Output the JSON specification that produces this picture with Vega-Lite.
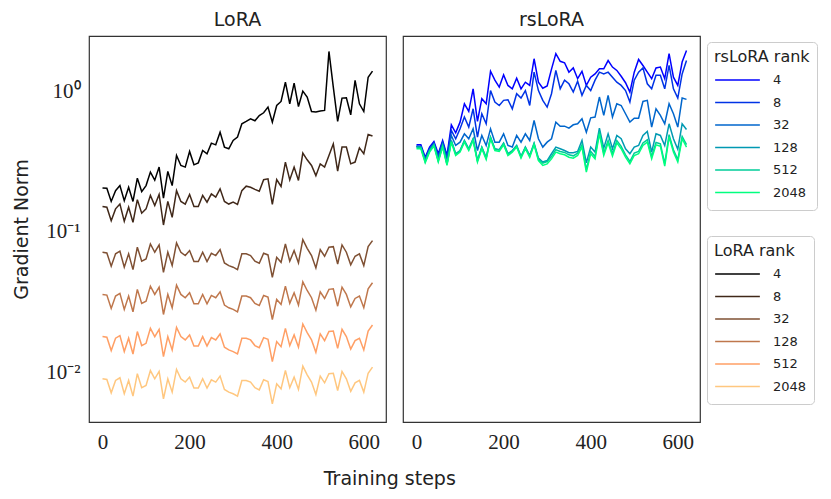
{
  "$schema": "https://vega.github.io/schema/vega-lite/v6.json",
  "padding": {"left": 12, "top": 10, "right": 0, "bottom": 0},
  "background": "white",
  "datasets": {
    "lora_4": [{"step":0,"norm":0.206},{"step":10,"norm":0.205},{"step":20,"norm":0.165},{"step":30,"norm":0.197},{"step":40,"norm":0.214},{"step":50,"norm":0.167},{"step":60,"norm":0.208},{"step":70,"norm":0.165},{"step":80,"norm":0.242},{"step":90,"norm":0.194},{"step":100,"norm":0.214},{"step":110,"norm":0.267},{"step":120,"norm":0.234},{"step":130,"norm":0.29},{"step":140,"norm":0.174},{"step":150,"norm":0.27},{"step":160,"norm":0.214},{"step":170,"norm":0.351},{"step":180,"norm":0.298},{"step":190,"norm":0.29},{"step":200,"norm":0.375},{"step":210,"norm":0.301},{"step":220,"norm":0.311},{"step":230,"norm":0.381},{"step":240,"norm":0.361},{"step":250,"norm":0.43},{"step":260,"norm":0.418},{"step":270,"norm":0.515},{"step":280,"norm":0.403},{"step":290,"norm":0.392},{"step":300,"norm":0.449},{"step":310,"norm":0.475},{"step":320,"norm":0.591},{"step":330,"norm":0.614},{"step":340,"norm":0.641},{"step":350,"norm":0.621},{"step":360,"norm":0.677},{"step":370,"norm":0.708},{"step":380,"norm":0.777},{"step":390,"norm":0.607},{"step":400,"norm":0.798},{"step":410,"norm":0.853},{"step":420,"norm":1.17},{"step":430,"norm":0.821},{"step":440,"norm":1.153},{"step":450,"norm":0.785},{"step":460,"norm":1.01},{"step":470,"norm":0.916},{"step":480,"norm":0.723},{"step":490,"norm":0.716},{"step":500,"norm":0.728},{"step":510,"norm":0.736},{"step":520,"norm":1.94},{"step":530,"norm":1.08},{"step":540,"norm":0.614},{"step":550,"norm":0.901},{"step":560,"norm":0.905},{"step":570,"norm":0.685},{"step":580,"norm":1.205},{"step":590,"norm":0.821},{"step":600,"norm":0.723},{"step":610,"norm":1.27},{"step":620,"norm":1.405}],
    "lora_8": [{"step":0,"norm":0.152},{"step":10,"norm":0.15},{"step":20,"norm":0.12},{"step":30,"norm":0.146},{"step":40,"norm":0.158},{"step":50,"norm":0.119},{"step":60,"norm":0.15},{"step":70,"norm":0.117},{"step":80,"norm":0.17},{"step":90,"norm":0.136},{"step":100,"norm":0.146},{"step":110,"norm":0.182},{"step":120,"norm":0.154},{"step":130,"norm":0.185},{"step":140,"norm":0.112},{"step":150,"norm":0.165},{"step":160,"norm":0.127},{"step":170,"norm":0.197},{"step":180,"norm":0.165},{"step":190,"norm":0.158},{"step":200,"norm":0.185},{"step":210,"norm":0.152},{"step":220,"norm":0.152},{"step":230,"norm":0.182},{"step":240,"norm":0.163},{"step":250,"norm":0.187},{"step":260,"norm":0.177},{"step":270,"norm":0.203},{"step":280,"norm":0.165},{"step":290,"norm":0.158},{"step":300,"norm":0.163},{"step":310,"norm":0.157},{"step":320,"norm":0.197},{"step":330,"norm":0.212},{"step":340,"norm":0.208},{"step":350,"norm":0.201},{"step":360,"norm":0.195},{"step":370,"norm":0.236},{"step":380,"norm":0.239},{"step":390,"norm":0.157},{"step":400,"norm":0.236},{"step":410,"norm":0.211},{"step":420,"norm":0.315},{"step":430,"norm":0.235},{"step":440,"norm":0.29},{"step":450,"norm":0.233},{"step":460,"norm":0.365},{"step":470,"norm":0.327},{"step":480,"norm":0.298},{"step":490,"norm":0.252},{"step":500,"norm":0.306},{"step":510,"norm":0.29},{"step":520,"norm":0.351},{"step":530,"norm":0.425},{"step":540,"norm":0.271},{"step":550,"norm":0.403},{"step":560,"norm":0.403},{"step":570,"norm":0.306},{"step":580,"norm":0.315},{"step":590,"norm":0.398},{"step":600,"norm":0.361},{"step":610,"norm":0.496},{"step":620,"norm":0.483}],
    "lora_32": [{"step":0,"norm":0.0716},{"step":10,"norm":0.0708},{"step":20,"norm":0.0569},{"step":30,"norm":0.0697},{"step":40,"norm":0.0728},{"step":50,"norm":0.056},{"step":60,"norm":0.0697},{"step":70,"norm":0.0538},{"step":80,"norm":0.0778},{"step":90,"norm":0.0618},{"step":100,"norm":0.0641},{"step":110,"norm":0.082},{"step":120,"norm":0.0716},{"step":130,"norm":0.0807},{"step":140,"norm":0.0515},{"step":150,"norm":0.0716},{"step":160,"norm":0.0575},{"step":170,"norm":0.0834},{"step":180,"norm":0.0716},{"step":190,"norm":0.0678},{"step":200,"norm":0.0736},{"step":210,"norm":0.0614},{"step":220,"norm":0.0614},{"step":230,"norm":0.0716},{"step":240,"norm":0.0614},{"step":250,"norm":0.0704},{"step":260,"norm":0.0678},{"step":270,"norm":0.0748},{"step":280,"norm":0.0601},{"step":290,"norm":0.0575},{"step":300,"norm":0.056},{"step":310,"norm":0.0538},{"step":320,"norm":0.0697},{"step":330,"norm":0.0697},{"step":340,"norm":0.0678},{"step":350,"norm":0.0618},{"step":360,"norm":0.0597},{"step":370,"norm":0.0704},{"step":380,"norm":0.0685},{"step":390,"norm":0.0474},{"step":400,"norm":0.0659},{"step":410,"norm":0.0607},{"step":420,"norm":0.082},{"step":430,"norm":0.0618},{"step":440,"norm":0.0736},{"step":450,"norm":0.0601},{"step":460,"norm":0.0881},{"step":470,"norm":0.0764},{"step":480,"norm":0.0678},{"step":490,"norm":0.0553},{"step":500,"norm":0.0748},{"step":510,"norm":0.067},{"step":520,"norm":0.0778},{"step":530,"norm":0.0785},{"step":540,"norm":0.059},{"step":550,"norm":0.0807},{"step":560,"norm":0.0716},{"step":570,"norm":0.0583},{"step":580,"norm":0.067},{"step":590,"norm":0.0697},{"step":600,"norm":0.0575},{"step":610,"norm":0.0785},{"step":620,"norm":0.0867}],
    "lora_128": [{"step":0,"norm":0.0358},{"step":10,"norm":0.0354},{"step":20,"norm":0.02845},{"step":30,"norm":0.03485},{"step":40,"norm":0.0364},{"step":50,"norm":0.028},{"step":60,"norm":0.03485},{"step":70,"norm":0.0269},{"step":80,"norm":0.0389},{"step":90,"norm":0.0309},{"step":100,"norm":0.03205},{"step":110,"norm":0.041},{"step":120,"norm":0.0358},{"step":130,"norm":0.04035},{"step":140,"norm":0.02575},{"step":150,"norm":0.0358},{"step":160,"norm":0.02875},{"step":170,"norm":0.0417},{"step":180,"norm":0.0358},{"step":190,"norm":0.0339},{"step":200,"norm":0.0368},{"step":210,"norm":0.0307},{"step":220,"norm":0.0307},{"step":230,"norm":0.0358},{"step":240,"norm":0.0307},{"step":250,"norm":0.0352},{"step":260,"norm":0.0339},{"step":270,"norm":0.0374},{"step":280,"norm":0.03005},{"step":290,"norm":0.02875},{"step":300,"norm":0.028},{"step":310,"norm":0.0269},{"step":320,"norm":0.03485},{"step":330,"norm":0.03485},{"step":340,"norm":0.0339},{"step":350,"norm":0.0309},{"step":360,"norm":0.02985},{"step":370,"norm":0.0352},{"step":380,"norm":0.03425},{"step":390,"norm":0.0237},{"step":400,"norm":0.03295},{"step":410,"norm":0.03035},{"step":420,"norm":0.041},{"step":430,"norm":0.0309},{"step":440,"norm":0.0368},{"step":450,"norm":0.03005},{"step":460,"norm":0.04405},{"step":470,"norm":0.0382},{"step":480,"norm":0.0339},{"step":490,"norm":0.02765},{"step":500,"norm":0.0374},{"step":510,"norm":0.0335},{"step":520,"norm":0.0389},{"step":530,"norm":0.03925},{"step":540,"norm":0.0295},{"step":550,"norm":0.04035},{"step":560,"norm":0.0358},{"step":570,"norm":0.02915},{"step":580,"norm":0.0335},{"step":590,"norm":0.03485},{"step":600,"norm":0.02875},{"step":610,"norm":0.03925},{"step":620,"norm":0.04335}],
    "lora_512": [{"step":0,"norm":0.0179},{"step":10,"norm":0.0177},{"step":20,"norm":0.01423},{"step":30,"norm":0.01743},{"step":40,"norm":0.0182},{"step":50,"norm":0.014},{"step":60,"norm":0.01743},{"step":70,"norm":0.01345},{"step":80,"norm":0.01945},{"step":90,"norm":0.01545},{"step":100,"norm":0.01603},{"step":110,"norm":0.0205},{"step":120,"norm":0.0179},{"step":130,"norm":0.02018},{"step":140,"norm":0.01288},{"step":150,"norm":0.0179},{"step":160,"norm":0.01438},{"step":170,"norm":0.02085},{"step":180,"norm":0.0179},{"step":190,"norm":0.01695},{"step":200,"norm":0.0184},{"step":210,"norm":0.01535},{"step":220,"norm":0.01535},{"step":230,"norm":0.0179},{"step":240,"norm":0.01535},{"step":250,"norm":0.0176},{"step":260,"norm":0.01695},{"step":270,"norm":0.0187},{"step":280,"norm":0.01503},{"step":290,"norm":0.01438},{"step":300,"norm":0.014},{"step":310,"norm":0.01345},{"step":320,"norm":0.01743},{"step":330,"norm":0.01743},{"step":340,"norm":0.01695},{"step":350,"norm":0.01545},{"step":360,"norm":0.01493},{"step":370,"norm":0.0176},{"step":380,"norm":0.01713},{"step":390,"norm":0.01185},{"step":400,"norm":0.01648},{"step":410,"norm":0.01518},{"step":420,"norm":0.0205},{"step":430,"norm":0.01545},{"step":440,"norm":0.0184},{"step":450,"norm":0.01503},{"step":460,"norm":0.02203},{"step":470,"norm":0.0191},{"step":480,"norm":0.01695},{"step":490,"norm":0.01383},{"step":500,"norm":0.0187},{"step":510,"norm":0.01675},{"step":520,"norm":0.01945},{"step":530,"norm":0.01963},{"step":540,"norm":0.01475},{"step":550,"norm":0.02018},{"step":560,"norm":0.0179},{"step":570,"norm":0.01458},{"step":580,"norm":0.01675},{"step":590,"norm":0.01743},{"step":600,"norm":0.01438},{"step":610,"norm":0.01963},{"step":620,"norm":0.02168}],
    "lora_2048": [{"step":0,"norm":0.00895},{"step":10,"norm":0.00885},{"step":20,"norm":0.00711},{"step":30,"norm":0.00871},{"step":40,"norm":0.0091},{"step":50,"norm":0.007},{"step":60,"norm":0.00871},{"step":70,"norm":0.00673},{"step":80,"norm":0.00973},{"step":90,"norm":0.00773},{"step":100,"norm":0.00801},{"step":110,"norm":0.01025},{"step":120,"norm":0.00895},{"step":130,"norm":0.01009},{"step":140,"norm":0.00644},{"step":150,"norm":0.00895},{"step":160,"norm":0.00719},{"step":170,"norm":0.01043},{"step":180,"norm":0.00895},{"step":190,"norm":0.00848},{"step":200,"norm":0.0092},{"step":210,"norm":0.00768},{"step":220,"norm":0.00768},{"step":230,"norm":0.00895},{"step":240,"norm":0.00768},{"step":250,"norm":0.0088},{"step":260,"norm":0.00848},{"step":270,"norm":0.00935},{"step":280,"norm":0.00751},{"step":290,"norm":0.00719},{"step":300,"norm":0.007},{"step":310,"norm":0.00673},{"step":320,"norm":0.00871},{"step":330,"norm":0.00871},{"step":340,"norm":0.00848},{"step":350,"norm":0.00773},{"step":360,"norm":0.00746},{"step":370,"norm":0.0088},{"step":380,"norm":0.00856},{"step":390,"norm":0.00593},{"step":400,"norm":0.00824},{"step":410,"norm":0.00759},{"step":420,"norm":0.01025},{"step":430,"norm":0.00773},{"step":440,"norm":0.0092},{"step":450,"norm":0.00751},{"step":460,"norm":0.01101},{"step":470,"norm":0.00955},{"step":480,"norm":0.00848},{"step":490,"norm":0.00691},{"step":500,"norm":0.00935},{"step":510,"norm":0.00838},{"step":520,"norm":0.00973},{"step":530,"norm":0.00981},{"step":540,"norm":0.00738},{"step":550,"norm":0.01009},{"step":560,"norm":0.00895},{"step":570,"norm":0.00729},{"step":580,"norm":0.00838},{"step":590,"norm":0.00871},{"step":600,"norm":0.00719},{"step":610,"norm":0.00981},{"step":620,"norm":0.01084}],
    "rslora_4": [{"step":0,"norm":0.418},{"step":10,"norm":0.418},{"step":20,"norm":0.341},{"step":30,"norm":0.403},{"step":40,"norm":0.442},{"step":50,"norm":0.361},{"step":60,"norm":0.449},{"step":70,"norm":0.351},{"step":80,"norm":0.581},{"step":90,"norm":0.51},{"step":100,"norm":0.607},{"step":110,"norm":0.821},{"step":120,"norm":0.724},{"step":130,"norm":1.05},{"step":140,"norm":0.614},{"step":150,"norm":0.892},{"step":160,"norm":0.821},{"step":170,"norm":1.4},{"step":180,"norm":1.21},{"step":190,"norm":1.08},{"step":200,"norm":1.32},{"step":210,"norm":1.11},{"step":220,"norm":1.05},{"step":230,"norm":1.25},{"step":240,"norm":1.05},{"step":250,"norm":1.17},{"step":260,"norm":1.11},{"step":270,"norm":1.72},{"step":280,"norm":1.17},{"step":290,"norm":1.06},{"step":300,"norm":1.1},{"step":310,"norm":1.45},{"step":320,"norm":1.87},{"step":330,"norm":1.65},{"step":340,"norm":1.61},{"step":350,"norm":1.38},{"step":360,"norm":1.48},{"step":370,"norm":1.24},{"step":380,"norm":1.4},{"step":390,"norm":1.11},{"step":400,"norm":1.27},{"step":410,"norm":1.34},{"step":420,"norm":1.46},{"step":430,"norm":1.46},{"step":440,"norm":1.67},{"step":450,"norm":1.5},{"step":460,"norm":1.42},{"step":470,"norm":1.29},{"step":480,"norm":1.16},{"step":490,"norm":0.995},{"step":500,"norm":1.38},{"step":510,"norm":1.7},{"step":520,"norm":1.54},{"step":530,"norm":1.38},{"step":540,"norm":1.24},{"step":550,"norm":1.48},{"step":560,"norm":1.5},{"step":570,"norm":1.24},{"step":580,"norm":1.87},{"step":590,"norm":1.27},{"step":600,"norm":1.11},{"step":610,"norm":1.63},{"step":620,"norm":1.97}],
    "rslora_8": [{"step":0,"norm":0.409},{"step":10,"norm":0.409},{"step":20,"norm":0.336},{"step":30,"norm":0.392},{"step":40,"norm":0.432},{"step":50,"norm":0.351},{"step":60,"norm":0.437},{"step":70,"norm":0.341},{"step":80,"norm":0.53},{"step":90,"norm":0.462},{"step":100,"norm":0.544},{"step":110,"norm":0.66},{"step":120,"norm":0.56},{"step":130,"norm":0.756},{"step":140,"norm":0.475},{"step":150,"norm":0.697},{"step":160,"norm":0.591},{"step":170,"norm":1.02},{"step":180,"norm":0.844},{"step":190,"norm":0.798},{"step":200,"norm":0.868},{"step":210,"norm":0.877},{"step":220,"norm":0.756},{"step":230,"norm":0.968},{"step":240,"norm":0.902},{"step":250,"norm":1.02},{"step":260,"norm":0.798},{"step":270,"norm":1.38},{"step":280,"norm":1.02},{"step":290,"norm":0.868},{"step":300,"norm":0.777},{"step":310,"norm":0.968},{"step":320,"norm":1.42},{"step":330,"norm":1.05},{"step":340,"norm":1.21},{"step":350,"norm":1.14},{"step":360,"norm":0.995},{"step":370,"norm":1.19},{"step":380,"norm":0.943},{"step":390,"norm":1.11},{"step":400,"norm":1.02},{"step":410,"norm":1.21},{"step":420,"norm":1.38},{"step":430,"norm":1.34},{"step":440,"norm":1.38},{"step":450,"norm":1.27},{"step":460,"norm":1.17},{"step":470,"norm":1.11},{"step":480,"norm":1.02},{"step":490,"norm":0.844},{"step":500,"norm":1.21},{"step":510,"norm":1.38},{"step":520,"norm":1.48},{"step":530,"norm":1.14},{"step":540,"norm":1.05},{"step":550,"norm":1.31},{"step":560,"norm":1.31},{"step":570,"norm":1.05},{"step":580,"norm":1.54},{"step":590,"norm":1.05},{"step":600,"norm":0.902},{"step":610,"norm":1.34},{"step":620,"norm":1.67}],
    "rslora_32": [{"step":0,"norm":0.409},{"step":10,"norm":0.403},{"step":20,"norm":0.329},{"step":30,"norm":0.388},{"step":40,"norm":0.425},{"step":50,"norm":0.341},{"step":60,"norm":0.425},{"step":70,"norm":0.332},{"step":80,"norm":0.488},{"step":90,"norm":0.414},{"step":100,"norm":0.437},{"step":110,"norm":0.501},{"step":120,"norm":0.462},{"step":130,"norm":0.544},{"step":140,"norm":0.381},{"step":150,"norm":0.488},{"step":160,"norm":0.414},{"step":170,"norm":0.544},{"step":180,"norm":0.437},{"step":190,"norm":0.437},{"step":200,"norm":0.501},{"step":210,"norm":0.414},{"step":220,"norm":0.403},{"step":230,"norm":0.488},{"step":240,"norm":0.437},{"step":250,"norm":0.501},{"step":260,"norm":0.449},{"step":270,"norm":0.624},{"step":280,"norm":0.462},{"step":290,"norm":0.403},{"step":300,"norm":0.437},{"step":310,"norm":0.462},{"step":320,"norm":0.607},{"step":330,"norm":0.568},{"step":340,"norm":0.568},{"step":350,"norm":0.55},{"step":360,"norm":0.581},{"step":370,"norm":0.591},{"step":380,"norm":0.641},{"step":390,"norm":0.515},{"step":400,"norm":0.652},{"step":410,"norm":0.66},{"step":420,"norm":0.917},{"step":430,"norm":0.678},{"step":440,"norm":0.943},{"step":450,"norm":0.66},{"step":460,"norm":0.821},{"step":470,"norm":0.798},{"step":480,"norm":0.697},{"step":490,"norm":0.607},{"step":500,"norm":0.648},{"step":510,"norm":0.648},{"step":520,"norm":0.853},{"step":530,"norm":0.868},{"step":540,"norm":0.56},{"step":550,"norm":0.756},{"step":560,"norm":0.678},{"step":570,"norm":0.591},{"step":580,"norm":0.821},{"step":590,"norm":0.697},{"step":600,"norm":0.56},{"step":610,"norm":0.902},{"step":620,"norm":0.882}],
    "rslora_128": [{"step":0,"norm":0.403},{"step":10,"norm":0.403},{"step":20,"norm":0.32},{"step":30,"norm":0.381},{"step":40,"norm":0.42},{"step":50,"norm":0.324},{"step":60,"norm":0.414},{"step":70,"norm":0.306},{"step":80,"norm":0.449},{"step":90,"norm":0.361},{"step":100,"norm":0.381},{"step":110,"norm":0.449},{"step":120,"norm":0.392},{"step":130,"norm":0.462},{"step":140,"norm":0.324},{"step":150,"norm":0.403},{"step":160,"norm":0.338},{"step":170,"norm":0.475},{"step":180,"norm":0.392},{"step":190,"norm":0.386},{"step":200,"norm":0.43},{"step":210,"norm":0.361},{"step":220,"norm":0.381},{"step":230,"norm":0.414},{"step":240,"norm":0.345},{"step":250,"norm":0.403},{"step":260,"norm":0.351},{"step":270,"norm":0.43},{"step":280,"norm":0.336},{"step":290,"norm":0.315},{"step":300,"norm":0.323},{"step":310,"norm":0.361},{"step":320,"norm":0.403},{"step":330,"norm":0.392},{"step":340,"norm":0.381},{"step":350,"norm":0.367},{"step":360,"norm":0.367},{"step":370,"norm":0.375},{"step":380,"norm":0.449},{"step":390,"norm":0.311},{"step":400,"norm":0.403},{"step":410,"norm":0.371},{"step":420,"norm":0.55},{"step":430,"norm":0.396},{"step":440,"norm":0.501},{"step":450,"norm":0.392},{"step":460,"norm":0.488},{"step":470,"norm":0.462},{"step":480,"norm":0.392},{"step":490,"norm":0.361},{"step":500,"norm":0.403},{"step":510,"norm":0.414},{"step":520,"norm":0.488},{"step":530,"norm":0.521},{"step":540,"norm":0.371},{"step":550,"norm":0.501},{"step":560,"norm":0.488},{"step":570,"norm":0.414},{"step":580,"norm":0.591},{"step":590,"norm":0.462},{"step":600,"norm":0.388},{"step":610,"norm":0.591},{"step":620,"norm":0.538}],
    "rslora_512": [{"step":0,"norm":0.4},{"step":10,"norm":0.4},{"step":20,"norm":0.317},{"step":30,"norm":0.378},{"step":40,"norm":0.417},{"step":50,"norm":0.321},{"step":60,"norm":0.411},{"step":70,"norm":0.304},{"step":80,"norm":0.446},{"step":90,"norm":0.358},{"step":100,"norm":0.378},{"step":110,"norm":0.446},{"step":120,"norm":0.389},{"step":130,"norm":0.458},{"step":140,"norm":0.321},{"step":150,"norm":0.4},{"step":160,"norm":0.336},{"step":170,"norm":0.471},{"step":180,"norm":0.389},{"step":190,"norm":0.383},{"step":200,"norm":0.426},{"step":210,"norm":0.358},{"step":220,"norm":0.378},{"step":230,"norm":0.411},{"step":240,"norm":0.343},{"step":250,"norm":0.4},{"step":260,"norm":0.348},{"step":270,"norm":0.426},{"step":280,"norm":0.329},{"step":290,"norm":0.31},{"step":300,"norm":0.318},{"step":310,"norm":0.345},{"step":320,"norm":0.386},{"step":330,"norm":0.375},{"step":340,"norm":0.369},{"step":350,"norm":0.355},{"step":360,"norm":0.349},{"step":370,"norm":0.365},{"step":380,"norm":0.419},{"step":390,"norm":0.278},{"step":400,"norm":0.375},{"step":410,"norm":0.345},{"step":420,"norm":0.521},{"step":430,"norm":0.365},{"step":440,"norm":0.449},{"step":450,"norm":0.361},{"step":460,"norm":0.449},{"step":470,"norm":0.408},{"step":480,"norm":0.355},{"step":490,"norm":0.318},{"step":500,"norm":0.365},{"step":510,"norm":0.375},{"step":520,"norm":0.431},{"step":530,"norm":0.454},{"step":540,"norm":0.345},{"step":550,"norm":0.435},{"step":560,"norm":0.425},{"step":570,"norm":0.307},{"step":580,"norm":0.494},{"step":590,"norm":0.386},{"step":600,"norm":0.328},{"step":610,"norm":0.48},{"step":620,"norm":0.419}],
    "rslora_2048": [{"step":0,"norm":0.392},{"step":10,"norm":0.392},{"step":20,"norm":0.311},{"step":30,"norm":0.371},{"step":40,"norm":0.409},{"step":50,"norm":0.315},{"step":60,"norm":0.403},{"step":70,"norm":0.298},{"step":80,"norm":0.437},{"step":90,"norm":0.351},{"step":100,"norm":0.371},{"step":110,"norm":0.437},{"step":120,"norm":0.381},{"step":130,"norm":0.449},{"step":140,"norm":0.315},{"step":150,"norm":0.392},{"step":160,"norm":0.329},{"step":170,"norm":0.462},{"step":180,"norm":0.381},{"step":190,"norm":0.375},{"step":200,"norm":0.418},{"step":210,"norm":0.351},{"step":220,"norm":0.371},{"step":230,"norm":0.403},{"step":240,"norm":0.336},{"step":250,"norm":0.392},{"step":260,"norm":0.341},{"step":270,"norm":0.418},{"step":280,"norm":0.323},{"step":290,"norm":0.298},{"step":300,"norm":0.306},{"step":310,"norm":0.332},{"step":320,"norm":0.371},{"step":330,"norm":0.361},{"step":340,"norm":0.355},{"step":350,"norm":0.341},{"step":360,"norm":0.336},{"step":370,"norm":0.351},{"step":380,"norm":0.403},{"step":390,"norm":0.267},{"step":400,"norm":0.361},{"step":410,"norm":0.332},{"step":420,"norm":0.501},{"step":430,"norm":0.351},{"step":440,"norm":0.432},{"step":450,"norm":0.347},{"step":460,"norm":0.432},{"step":470,"norm":0.392},{"step":480,"norm":0.341},{"step":490,"norm":0.306},{"step":500,"norm":0.351},{"step":510,"norm":0.361},{"step":520,"norm":0.414},{"step":530,"norm":0.437},{"step":540,"norm":0.332},{"step":550,"norm":0.418},{"step":560,"norm":0.409},{"step":570,"norm":0.295},{"step":580,"norm":0.475},{"step":590,"norm":0.371},{"step":600,"norm":0.315},{"step":610,"norm":0.462},{"step":620,"norm":0.403}]
  },
  "title": {
    "text": "Training steps",
    "orient": "bottom",
    "anchor": "middle",
    "font": "DejaVu Sans",
    "fontSize": 19,
    "fontWeight": "normal",
    "color": "#222222",
    "offset": 17,
    "dx": -25
  },
  "spacing": 15,
  "hconcat": [
    {
      "width": 297,
      "height": 386,
      "title": {"text": "LoRA", "font": "DejaVu Sans", "fontSize": 19, "fontWeight": "normal", "color": "#222222", "offset": 6},
      "encoding": {
        "x": {"field": "step", "type": "quantitative", "title": null,
              "scale": {"domain": [-31, 651], "nice": false, "zero": false},
              "axis": {"values": [0, 200, 400, 600]}},
        "y": {"field": "norm", "type": "quantitative", "title": "Gradient Norm",
              "scale": {"type": "log", "domain": [0.0044, 2.5], "nice": false},
              "axis": {"values": [0.01, 0.1, 1],
                       "labelExpr": "datum.value >= 1 ? '10⁰' : datum.value >= 0.1 ? '10⁻¹' : '10⁻²'"}}
      },
      "layer": [
        {"data": {"name": "lora_4"}, "mark": {"type": "line", "strokeWidth": 1.5},
         "encoding": {"stroke": {"datum": 4, "type": "nominal",
           "scale": {"domain": [4, 8, 32, 128, 512, 2048],
                     "range": ["#000000", "#402819", "#7f5033", "#bf774c", "#ff9f65", "#ffc77f"]},
           "legend": {"title": "LoRA rank", "orient": "none", "legendX": 618, "legendY": 200}}}},
        {"data": {"name": "lora_8"}, "mark": {"type": "line", "strokeWidth": 1.5},
         "encoding": {"stroke": {"datum": 8, "type": "nominal"}}},
        {"data": {"name": "lora_32"}, "mark": {"type": "line", "strokeWidth": 1.5},
         "encoding": {"stroke": {"datum": 32, "type": "nominal"}}},
        {"data": {"name": "lora_128"}, "mark": {"type": "line", "strokeWidth": 1.5},
         "encoding": {"stroke": {"datum": 128, "type": "nominal"}}},
        {"data": {"name": "lora_512"}, "mark": {"type": "line", "strokeWidth": 1.5},
         "encoding": {"stroke": {"datum": 512, "type": "nominal"}}},
        {"data": {"name": "lora_2048"}, "mark": {"type": "line", "strokeWidth": 1.5},
         "encoding": {"stroke": {"datum": 2048, "type": "nominal"}}}
      ]
    },
    {
      "width": 297,
      "height": 386,
      "title": {"text": "rsLoRA", "font": "DejaVu Sans", "fontSize": 19, "fontWeight": "normal", "color": "#222222", "offset": 6},
      "encoding": {
        "x": {"field": "step", "type": "quantitative", "title": null,
              "scale": {"domain": [-31, 651], "nice": false, "zero": false},
              "axis": {"values": [0, 200, 400, 600]}},
        "y": {"field": "norm", "type": "quantitative", "title": null,
              "scale": {"type": "log", "domain": [0.0044, 2.5], "nice": false},
              "axis": null}
      },
      "layer": [
        {"data": {"name": "rslora_4"}, "mark": {"type": "line", "strokeWidth": 1.5},
         "encoding": {"color": {"datum": "4", "type": "nominal",
           "scale": {"domain": ["4", "8", "32", "128", "512", "2048"],
                     "range": ["#0000ff", "#0033e5", "#0066cc", "#0099b2", "#00cc99", "#00ff7f"]},
           "legend": {"title": "rsLoRA rank", "orient": "none", "legendX": 618, "legendY": 6}}}},
        {"data": {"name": "rslora_8"}, "mark": {"type": "line", "strokeWidth": 1.5},
         "encoding": {"color": {"datum": "8", "type": "nominal"}}},
        {"data": {"name": "rslora_32"}, "mark": {"type": "line", "strokeWidth": 1.5},
         "encoding": {"color": {"datum": "32", "type": "nominal"}}},
        {"data": {"name": "rslora_128"}, "mark": {"type": "line", "strokeWidth": 1.5},
         "encoding": {"color": {"datum": "128", "type": "nominal"}}},
        {"data": {"name": "rslora_512"}, "mark": {"type": "line", "strokeWidth": 1.5},
         "encoding": {"color": {"datum": "512", "type": "nominal"}}},
        {"data": {"name": "rslora_2048"}, "mark": {"type": "line", "strokeWidth": 1.5},
         "encoding": {"color": {"datum": "2048", "type": "nominal"}}}
      ]
    }
  ],
  "config": {
    "view": {"stroke": "#333333", "strokeWidth": 1.2},
    "axis": {
      "grid": false, "ticks": false, "domain": false,
      "labelFont": "Liberation Serif", "labelFontSize": 21, "labelColor": "#222222",
      "titleFont": "DejaVu Sans", "titleFontSize": 19, "titleFontWeight": "normal", "titleColor": "#222222"
    },
    "axisX": {"labelPadding": 9},
    "axisY": {"labelPadding": 9, "titlePadding": 14},
    "legend": {
      "symbolType": "stroke", "symbolSize": 2000, "symbolStrokeWidth": 1.5,
      "clipHeight": 20, "rowPadding": 2.5, "labelOffset": 12,
      "padding": 7, "strokeColor": "#cccccc", "cornerRadius": 4, "fillColor": "white",
      "titleFont": "DejaVu Sans", "titleFontSize": 16, "titleFontWeight": "normal", "titleColor": "#222222",
      "labelFont": "DejaVu Sans", "labelFontSize": 13, "labelColor": "#222222", "titlePadding": 5
    }
  }
}
